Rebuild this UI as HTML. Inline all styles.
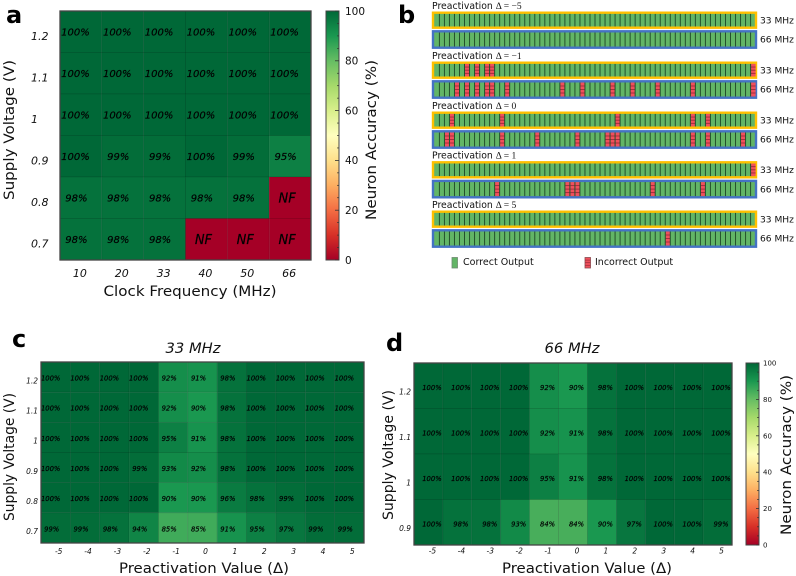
<!DOCTYPE html>
<html>
<head>
<meta charset="utf-8">
<title>Neuron accuracy figure</title>
<style>
html,body{margin:0;padding:0;background:#fff;width:796px;height:576px;overflow:hidden}
svg{display:block}
text{font-family:"DejaVu Sans","Liberation Sans",sans-serif;fill:#111}
.it{font-style:italic}
.serif{font-family:"Liberation Serif","DejaVu Serif",serif}
.letter{font-weight:bold;font-size:24px;fill:#000}
</style>
</head>
<body>
<svg id="fig" xmlns="http://www.w3.org/2000/svg" width="796" height="576" viewBox="0 0 796 576">
  <defs>
    <linearGradient id="cbgrad" x1="0" y1="1" x2="0" y2="0"></linearGradient>
  </defs>
  <text class="letter" x="6" y="23">a</text>
  <text class="letter" x="398" y="23">b</text>
  <text class="letter" x="12" y="347">c</text>
  <text class="letter" x="386" y="351">d</text>
  <g id="panelA"></g>
  <g id="panelB"></g>
  <g id="panelC"></g>
  <g id="panelD"></g>
</svg>
<script>
// ---- Panel a data ----
var aFreq = ['10','20','33','40','50','66'];
var aVolt = ['1.2','1.1','1','0.9','0.8','0.7'];
var aRow12 = [100,100,100,100,100,100];
var aRow11 = [100,100,100,100,100,100];
var aRow10 = [100,100,100,100,100,100];
var aRow09 = [100,99,99,100,99,95];
var aRow08 = [98,98,98,98,98,null];
var aRow07 = [98,98,98,null,null,null];
var aValues = [aRow12,aRow11,aRow10,aRow09,aRow08,aRow07];

// ---- Panel c data ----
var preLabels = ['-5','-4','-3','-2','-1','0','1','2','3','4','5'];
var cVolt = ['1.2','1.1','1','0.9','0.8','0.7'];
var cRow12 = [100,100,100,100,92,91,98,100,100,100,100];
var cRow11 = [100,100,100,100,92,90,98,100,100,100,100];
var cRow10 = [100,100,100,100,95,91,98,100,100,100,100];
var cRow09 = [100,100,100,99,93,92,98,100,100,100,100];
var cRow08 = [100,100,100,100,90,90,96,98,99,100,100];
var cRow07 = [99,99,98,94,85,85,91,95,97,99,99];
var cValues = [cRow12,cRow11,cRow10,cRow09,cRow08,cRow07];

// ---- Panel d data ----
var dVolt = ['1.2','1.1','1','0.9'];
var dRow12 = [100,100,100,100,92,90,98,100,100,100,100];
var dRow11 = [100,100,100,100,92,91,98,100,100,100,100];
var dRow10 = [100,100,100,100,95,91,98,100,100,100,100];
var dRow09 = [100,98,98,93,84,84,90,97,100,100,99];
var dValues = [dRow12,dRow11,dRow10,dRow09];

// ---- Colorbar ticks ----
var cbTicks = [0,20,40,60,80,100];
var cbMinor = [5,10,15,25,30,35,45,50,55,65,70,75,85,90,95];

// ---- Panel b data: indices of incorrect outputs among 64 neurons ----
var neuronCount = 64;
var stripDeltas = ['\u22125','\u22121','0','1','5'];
var errors33 = [[],[6,8,10,11,63],[3,13,36,51,54],[63],[]];
var errors66 = [[],[4,6,8,10,11,14,25,29,35,39,44,51,63],[2,3,13,20,28,34,35,36,51,54,61],[12,26,27,28,43,53],[46]];

// ---- Colormap (RdYlGn) ----
var cmapColors = ['#a50026','#d73027','#f46d43','#fdae61','#fee08b','#ffffbf','#d9ef8b','#a6d96a','#66bd63','#1a9850','#006837'];

var NS = 'http://www.w3.org/2000/svg';
function mk(parent, tag, attrs, txt){
  var el = document.createElementNS(NS, tag);
  for (var k in attrs) el.setAttribute(k, attrs[k]);
  if (txt !== undefined) el.textContent = txt;
  parent.appendChild(el);
  return el;
}
function hex(c){return [parseInt(c.substr(1,2),16),parseInt(c.substr(3,2),16),parseInt(c.substr(5,2),16)];}
function cmap(v){
  var t = Math.max(0,Math.min(1,v/100))*(cmapColors.length-1);
  var i = Math.min(Math.floor(t),cmapColors.length-2), f = t-i;
  var a = hex(cmapColors[i]), b = hex(cmapColors[i+1]);
  return 'rgb('+Math.round(a[0]+(b[0]-a[0])*f)+','+Math.round(a[1]+(b[1]-a[1])*f)+','+Math.round(a[2]+(b[2]-a[2])*f)+')';
}

// gradient
var grad = document.getElementById('cbgrad');
for (var g = 0; g < cmapColors.length; g++) {
  mk(grad,'stop',{offset:(g/(cmapColors.length-1)),'stop-color':cmapColors[g]});
}

function heatmap(root, o){
  var rows = o.values.length, cols = o.values[0].length;
  var cw = (o.x1-o.x0)/cols, ch = (o.y1-o.y0)/rows;
  function xS(i){return o.x0+i*cw;}
  function yS(j){return o.y0+j*ch;}
  o.values.forEach(function(row,j){
    row.forEach(function(v,i){
      var isNF = v === null;
      var cell = mk(root,'rect',{x:xS(i),y:yS(j),width:cw,height:ch,fill:cmap(isNF?0:v),stroke:'rgba(0,0,0,0.13)','stroke-width':0.7});
      
      
      var off = isNF ? o.nfOff : (v===100 ? o.off100 : o.offOther);
      var fs = isNF ? o.nfSize : o.cellSize;
      var label = mk(root,'text',{x:xS(i)+cw/2+off,y:yS(j)+ch/2+o.cellDy+fs*0.36,'text-anchor':'middle','font-size':fs,'class':'it',style:'fill:#000;stroke:#000;stroke-width:0.18'}, isNF?'NF':(v+'%'));
      
      
    });
  });
  var frame = mk(root,'rect',{x:o.x0,y:o.y0,width:o.x1-o.x0,height:o.y1-o.y0,fill:'none',stroke:'#444','stroke-width':1.3});
  
  
  o.xLabels.forEach(function(t,i){
    var xt = mk(root,'text',{x:xS(i)+cw/2+o.xTickOff,y:o.xTickY,'text-anchor':'middle','font-size':o.tickSize,'class':'it'},t);
    
    
  });
  o.yLabels.forEach(function(t,j){
    var yt = mk(root,'text',{x:o.yTickX,y:yS(j)+ch/2+o.yTickOff+o.tickSize*0.36,'text-anchor':o.yAnchor,'font-size':o.tickSize,'class':'it'},t);
    
    
  });
}

function title(root,t,x,y,len,size,rot,name){
  var a = {x:x,y:y,'text-anchor':'middle','font-size':size,textLength:len,lengthAdjust:'spacingAndGlyphs'};
  if (rot) a.transform = 'rotate(-90 '+x+' '+y+')';
  var el = mk(root,'text',a,t);
  
  
  return el;
}

function colorbar(root,x0,x1,y0,y1,fs,labelX,major){
  function vS(v){return y1-(v/100)*(y1-y0);}
  var bar = mk(root,'rect',{x:x0,y:y0,width:x1-x0,height:y1-y0,fill:'url(#cbgrad)',stroke:'#444','stroke-width':1});
  
  
  cbMinor.forEach(function(v){
    var m = mk(root,'line',{x1:x1-2,x2:x1,y1:vS(v),y2:vS(v),stroke:'#333','stroke-width':0.7});
    
    
  });
  cbTicks.forEach(function(v){
    var l = mk(root,'line',{x1:x1-major,x2:x1,y1:vS(v),y2:vS(v),stroke:'#333','stroke-width':0.8});
    
    
    var t = mk(root,'text',{x:labelX,y:vS(v)+fs*0.36,'font-size':fs},String(v));
    
    
  });
}

// ---- Panel a ----
var pA = document.getElementById('panelA');
heatmap(pA,{values:aValues,xLabels:aFreq,yLabels:aVolt,x0:60,x1:311,y0:11,y1:260,
  off100:-5.5,offOther:-4.5,nfOff:-3,cellDy:0,cellSize:10,nfSize:13,tickSize:11,
  xTickOff:-1,xTickY:277,yTickX:31,yTickOff:4.5,yAnchor:'start'});
title(pA,'Clock Frequency (MHz)',190,296,173,14,false,'x-axis-title');
title(pA,'Supply Voltage (V)',14,130,140,14,true,'y-axis-title');
colorbar(pA,326,339,11,260,10.5,345,4);
title(pA,'Neuron Accuracy (%)',376,140,160,14,true,'colorbar-title');

// ---- Panel c ----
var pC = document.getElementById('panelC');
heatmap(pC,{values:cValues,xLabels:preLabels,yLabels:cVolt,x0:41,x1:364,y0:362,y1:543,
  off100:-5,offOther:-4,nfOff:0,cellDy:1,cellSize:6.8,nfSize:8,tickSize:7.5,
  xTickOff:3,xTickY:554,yTickX:38,yTickOff:3.5,yAnchor:'end'});
title(pC,'33 MHz',193,353,55,14,false,'chart-title').setAttribute('class','it');
title(pC,'Preactivation Value (\u0394)',204,573,170,14,false,'x-axis-title');
title(pC,'Supply Voltage (V)',14,457,128,14,true,'y-axis-title');

// ---- Panel d ----
var pD = document.getElementById('panelD');
heatmap(pD,{values:dValues,xLabels:preLabels,yLabels:dVolt,x0:414,x1:732,y0:363,y1:545,
  off100:3.5,offOther:3.5,nfOff:0,cellDy:2,cellSize:6.8,nfSize:8,tickSize:7.5,
  xTickOff:4,xTickY:553.5,yTickX:411,yTickOff:6,yAnchor:'end'});
title(pD,'66 MHz',572,353,55,14,false,'chart-title').setAttribute('class','it');
title(pD,'Preactivation Value (\u0394)',587,573,170,14,false,'x-axis-title');
title(pD,'Supply Voltage (V)',393,455,130,14,true,'y-axis-title');
colorbar(pD,746,759,363,545,7,763,3);
title(pD,'Neuron Accuracy (%)',791,455,160,14,true,'colorbar-title');

// ---- Panel b ----
var pB = document.getElementById('panelB');
var stripX0 = 432, stripX1 = 757;
var groupTops = [11.7,61.7,111.7,161.3,210.7];
function neuronX(i){return 434.4+i*(321.2/neuronCount);}
function strip(y,h,color,errs,lab){
  var inner = mk(pB,'rect',{x:stripX0+1,y:y+1,width:stripX1-stripX0-2,height:h-2,fill:'#62b566',stroke:color,'stroke-width':2.4});
  
  
  var w = 321.2/neuronCount;
  for (var i = 0; i < neuronCount; i++) {
    if (errs.indexOf(i) >= 0) {
      var red = mk(pB,'rect',{x:neuronX(i)+0.3,y:y+2.2,width:w-0.3,height:h-4.4,fill:'#f0505c'});
      
      
      for (var s = 1; s < 4; s++) {
        var st = mk(pB,'line',{x1:neuronX(i)+0.3,x2:neuronX(i)+w,y1:y+2.2+s*(h-4.4)/4,y2:y+2.2+s*(h-4.4)/4,stroke:'#9a2c3a','stroke-width':0.9});
        
        
      }
    }
    if (i > 0) {
      var div = mk(pB,'line',{x1:neuronX(i),x2:neuronX(i),y1:y+2.2,y2:y+h-2.2,stroke:'#24502c','stroke-width':1});
      
      
    }
  }
  var t = mk(pB,'text',{x:760,y:y+h/2+3.2,'font-size':9.1},lab);
  
  
}
stripDeltas.forEach(function(d,k){
  var top = groupTops[k];
  var cap = mk(pB,'text',{x:432,y:top-2.8,'font-size':9.3});
  
  
  mk(cap,'tspan',{},'Preactivation ');
  mk(cap,'tspan',{'class':'serif','font-size':9.5},'\u0394 = '+d);
  strip(top,17,'#ffc000',errors33[k],'33 MHz');
  strip(top+18.6,18.4,'#4472c4',errors66[k],'66 MHz');
});
// legend
var lg = mk(pB,'rect',{x:452,y:257.5,width:5.5,height:10.5,fill:'#62b566',stroke:'#6d8a70','stroke-width':0.8});


var lgt = mk(pB,'text',{x:463,y:265,'font-size':9.5},'Correct Output');


var lr = mk(pB,'rect',{x:585,y:257.5,width:5.5,height:10.5,fill:'#f0505c',stroke:'#8a4a50','stroke-width':0.8});


[1,2,3].forEach(function(s){
  var ls = mk(pB,'line',{x1:585,x2:590.5,y1:257.5+s*2.6,y2:257.5+s*2.6,stroke:'#9a2c3a','stroke-width':0.7});
  
  
});
var lrt = mk(pB,'text',{x:595,y:265,'font-size':9.5},'Incorrect Output');


</script>
</body>
</html>
